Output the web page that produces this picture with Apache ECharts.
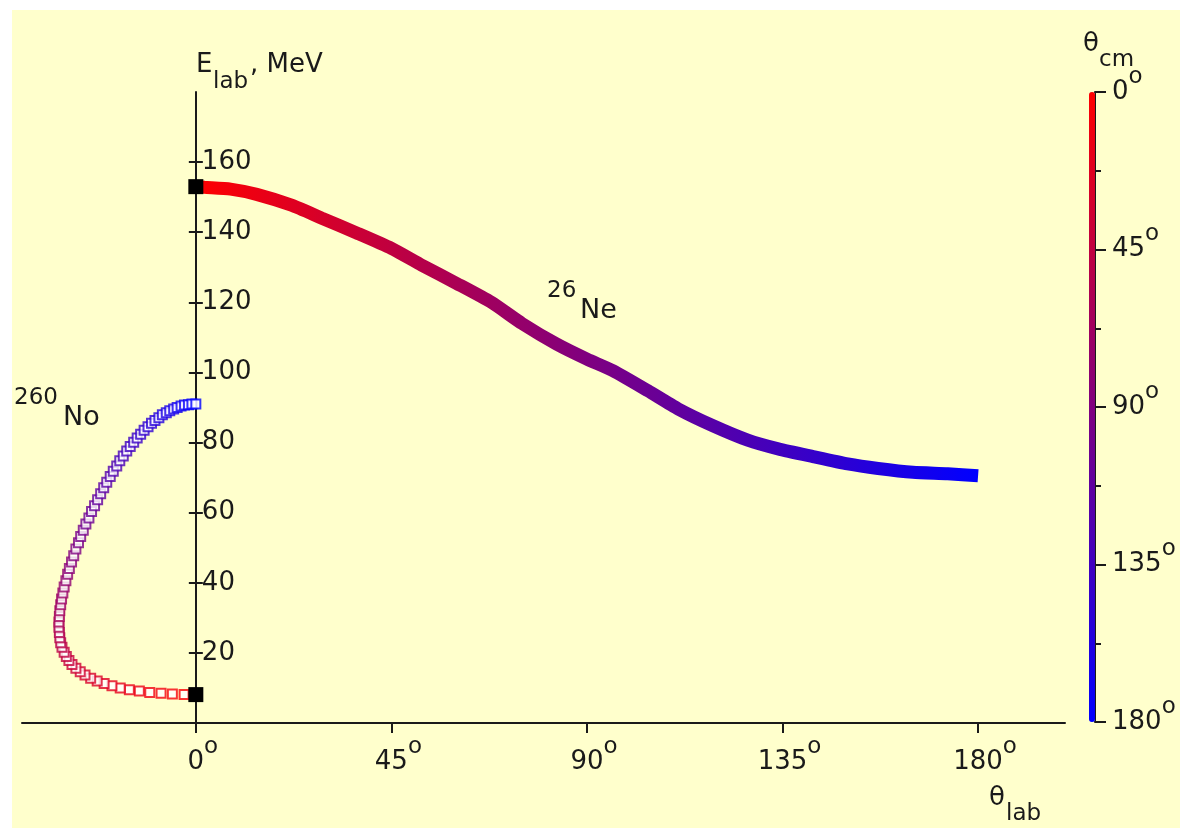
<!DOCTYPE html>
<html>
<head>
<meta charset="utf-8">
<script src="https://cdn.jsdelivr.net/npm/echarts@6/dist/echarts.min.js"></script>
<style>
html, body { margin: 0; padding: 0; background: #fff; }
#paper { position: absolute; left: 12px; top: 10px; width: 1168px; height: 818px; background: #ffffcc; }
#chart { position: absolute; left: 0; top: 0; width: 1185px; height: 831px; }
</style>
</head>
<body>
<div id="paper"></div>
<div id="chart"></div>
<script>
// 26Ne: lab angle (deg) / lab energy (MeV)
const neTheta = [0, 2, 8, 14, 22, 29, 37, 45, 52, 60, 68, 75, 83, 90, 96, 104, 111, 119, 127, 134, 142, 150, 157, 165, 173, 180];
const neEnergy = [153, 152.8, 152.3, 150.8, 147.7, 144, 139.8, 135.4, 130.6, 125.4, 120, 114, 108.1, 103.8, 100.5, 94.8, 89.6, 84.8, 80.7, 78.2, 76.0, 73.9, 72.6, 71.5, 71.1, 70.5];

// 260No recoil: lab angle (drawn on the negative side), lab energy, theta cm
const noTheta = [0, -2.7, -5.4, -8.0, -10.6, -13.0, -15.3, -17.4, -19.3, -21.1, -22.7, -24.2, -25.5, -26.6, -27.6, -28.5, -29.2, -29.8, -30.3, -30.8, -31.1, -31.3, -31.4, -31.5, -31.5, -31.4, -31.3, -31.1, -30.9, -30.6, -30.3, -29.9, -29.5, -29.1, -28.6, -28.1, -27.6, -27.0, -26.5, -25.9, -25.3, -24.6, -24.0, -23.3, -22.6, -21.9, -21.2, -20.5, -19.7, -19.0, -18.2, -17.5, -16.7, -15.9, -15.1, -14.3, -13.5, -12.7, -11.9, -11.0, -10.2, -9.4, -8.5, -7.7, -6.8, -6.0, -5.1, -4.3, -3.4, -2.6, -1.7, -0.9, 0];
const noEnergy = [8.1, 8.1, 8.3, 8.5, 8.7, 9.1, 9.5, 10.0, 10.6, 11.3, 12.0, 12.8, 13.7, 14.6, 15.6, 16.7, 17.8, 19.0, 20.2, 21.6, 22.9, 24.3, 25.8, 27.3, 28.8, 30.4, 32.0, 33.7, 35.4, 37.1, 38.8, 40.6, 42.4, 44.1, 45.9, 47.7, 49.6, 51.4, 53.2, 55.0, 56.8, 58.5, 60.3, 62.0, 63.7, 65.4, 67.1, 68.7, 70.3, 71.8, 73.3, 74.8, 76.2, 77.6, 78.9, 80.1, 81.3, 82.4, 83.5, 84.5, 85.5, 86.3, 87.1, 87.9, 88.5, 89.1, 89.6, 90.0, 90.4, 90.7, 90.8, 91.0, 91.0];
const noThetaCm = [0, 2.5, 5, 7.5, 10, 12.5, 15, 17.5, 20, 22.5, 25, 27.5, 30, 32.5, 35, 37.5, 40, 42.5, 45, 47.5, 50, 52.5, 55, 57.5, 60, 62.5, 65, 67.5, 70, 72.5, 75, 77.5, 80, 82.5, 85, 87.5, 90, 92.5, 95, 97.5, 100, 102.5, 105, 107.5, 110, 112.5, 115, 117.5, 120, 122.5, 125, 127.5, 130, 132.5, 135, 137.5, 140, 142.5, 145, 147.5, 150, 152.5, 155, 157.5, 160, 162.5, 165, 167.5, 170, 172.5, 175, 177.5, 180];

// theta_cm = 0 end points (black squares)
const endTheta = [0, 0];
const endEnergy = [153, 8.1];

const xTicks = [0, 45, 90, 135, 180];
const yTicks = [20, 40, 60, 80, 100, 120, 140, 160];
const cmTicks = [0, 45, 90, 135, 180];

const font = "'DejaVu Sans', sans-serif";
const ink = "#1a1a1a";
const colors = ["#ff0000", "#0000ff"];

// plot area: x from -40 to 200 deg over 1043 px starting at 22
const plotLeft = 22, plotWidth = 1043;
const zeroX = plotLeft + plotWidth * 40 / 240;

let myChart = echarts.init(document.getElementById("chart"));

let txt = (text, left, top, size) => ({
  type: "text",
  left: left,
  top: top,
  style: { text: text, fontSize: size, fontFamily: font, fill: ink }
});

let degRich = (pad) => ({
  n: { fontSize: 26, fontFamily: font, color: ink, padding: [0, 0, 0, pad] },
  s: { fontSize: 23, fontFamily: font, color: ink, padding: [0, 0, 30, 0] }
});

let option = {
  animation: false,
  grid: [
    { left: plotLeft, width: plotWidth, top: 92, bottom: 108 },
    { left: 1095, width: 1, top: 92, height: 630 },
    { left: zeroX, width: 1, top: 92, bottom: 108 }
  ],
  visualMap: [
    {
      show: false,
      type: "continuous",
      seriesIndex: 0,
      dimension: 0,
      min: 0,
      max: 180,
      inRange: { color: colors }
    },
    {
      type: "continuous",
      seriesIndex: 1,
      dimension: 2,
      min: 0,
      max: 180,
      inverse: true,
      orient: "vertical",
      left: 1089,
      top: 92,
      padding: 0,
      itemWidth: 6,
      itemHeight: 630,
      calculable: false,
      hoverLink: false,
      text: null,
      inRange: { color: colors }
    }
  ],
  xAxis: [
    {
      type: "value",
      gridIndex: 0,
      min: -40,
      max: 200,
      splitLine: { show: false },
      axisLine: { onZero: false, lineStyle: { color: ink, width: 2 } },
      axisTick: { customValues: xTicks, length: 10, lineStyle: { color: ink, width: 2 } },
      axisLabel: {
        customValues: xTicks,
        margin: 13,
        formatter: (v) => "{n|" + v + "}{s|o}",
        rich: degRich(14)
      }
    },
    { type: "value", gridIndex: 1, show: false, min: 0, max: 1 },
    { type: "value", gridIndex: 2, show: false, min: 0, max: 1 }
  ],
  yAxis: [
    { type: "value", gridIndex: 0, show: false, min: 0, max: 180 },
    {
      type: "value",
      gridIndex: 1,
      position: "right",
      inverse: true,
      min: 0,
      max: 180,
      interval: 45,
      splitLine: { show: false },
      axisLine: { lineStyle: { color: ink, width: 2 } },
      axisTick: { length: 11, lineStyle: { color: ink, width: 2 } },
      minorTick: { show: true, splitNumber: 2, length: 6, lineStyle: { color: ink, width: 2 } },
      axisLabel: {
        customValues: cmTicks,
        margin: 16,
        formatter: (v) => "{n|" + v + "}{s|o}",
        rich: degRich(0)
      }
    },
    {
      // E_lab axis drawn at theta_lab = 0: labels and right half of ticks
      type: "value",
      gridIndex: 2,
      position: "left",
      min: 0,
      max: 180,
      splitLine: { show: false },
      axisLine: { onZero: false, lineStyle: { color: ink, width: 2 } },
      axisTick: { inside: true, customValues: yTicks, length: 7, lineStyle: { color: ink, width: 2 } },
      axisLabel: {
        inside: true,
        customValues: yTicks,
        margin: 6,
        fontSize: 26,
        fontFamily: font,
        color: ink
      }
    },
    {
      // left half of the crossing ticks
      type: "value",
      gridIndex: 2,
      position: "left",
      min: 0,
      max: 180,
      splitLine: { show: false },
      axisLine: { show: false, onZero: false },
      axisTick: { customValues: yTicks, length: 7, lineStyle: { color: ink, width: 2 } },
      axisLabel: { show: false }
    }
  ],
  series: [
    {
      name: "26Ne",
      type: "line",
      xAxisIndex: 0,
      yAxisIndex: 0,
      showSymbol: false,
      smooth: 0.2,
      data: neTheta.map((t, i) => [t, neEnergy[i]]),
      lineStyle: { width: 13, cap: "butt" },
      z: 2
    },
    {
      name: "260No",
      type: "scatter",
      xAxisIndex: 0,
      yAxisIndex: 0,
      symbol: "emptyRect",
      symbolSize: 9,
      itemStyle: { borderWidth: 2 },
      data: noTheta.map((t, i) => [t, noEnergy[i], noThetaCm[i]]),
      z: 3
    },
    {
      name: "ends",
      type: "scatter",
      xAxisIndex: 0,
      yAxisIndex: 0,
      symbol: "rect",
      symbolSize: 15,
      itemStyle: { color: "#000", opacity: 1 },
      data: endTheta.map((t, i) => [t, endEnergy[i]]),
      z: 5
    }
  ],
  graphic: [
    txt("E", 196, 52, 26),
    txt("lab", 213, 71, 23),
    txt(", MeV", 250, 52, 26),
    txt("θ", 989, 785, 26),
    txt("lab", 1006, 803, 23),
    txt("θ", 1083, 31, 26),
    txt("cm", 1099, 49, 23),
    txt("26", 547, 280, 23),
    txt("Ne", 580, 297, 27),
    txt("260", 14, 387, 23),
    txt("No", 63, 404, 27)
  ]
};

myChart.setOption(option);
</script>
</body>
</html>
